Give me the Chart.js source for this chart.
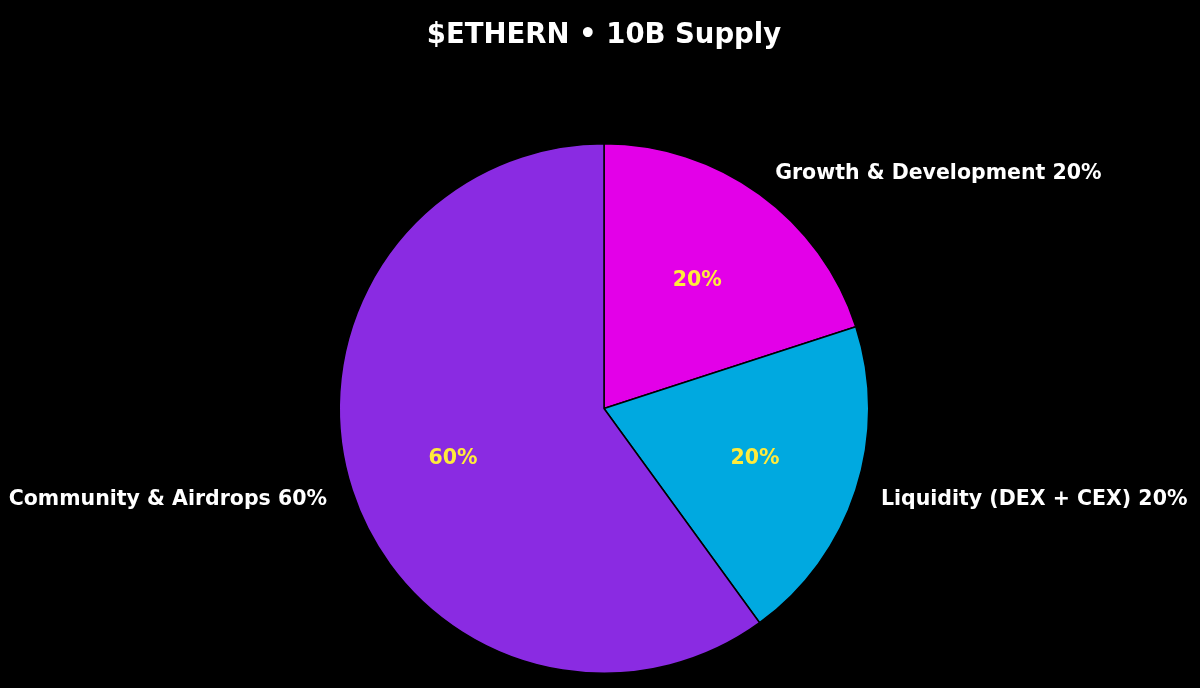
<!DOCTYPE html>
<html>
<head>
<meta charset="utf-8">
<script src="https://cdn.jsdelivr.net/npm/chart.js@4/dist/chart.umd.min.js"></script>
<style>
  html, body { margin: 0; padding: 0; background: #000; }
  #wrap { width: 1200px; height: 688px; position: relative; }
</style>
</head>
<body>
<div id="wrap"><canvas id="pie"></canvas></div>
<script>
var categories = ["Growth & Development", "Liquidity (DEX + CEX)", "Community & Airdrops"];
var shares = [20, 20, 60];
var sliceColors = ["#E300E8", "#00A9E0", "#8A2BE2"];
var chartTitle = "$ETHERN \u2022 10B Supply";

var FONT = "'DejaVu Sans', sans-serif";

// labels outside (1.1 r) and percentages inside (0.6 r), like a matplotlib pie
var pieLabels = {
	id: "pieLabels",
	afterDatasetsDraw: function(chart) {
		var ctx = chart.ctx;
		var arcs = chart.getDatasetMeta(0).data;
		ctx.save();
		ctx.textBaseline = "middle";
		for (var i = 0; i < arcs.length; i++) {
			var a = arcs[i];
			var mid = (a.startAngle + a.endAngle) / 2;
			var r = a.outerRadius;
			var cx = Math.cos(mid), cy = Math.sin(mid);

			ctx.font = "bold 20.5px " + FONT;
			ctx.fillStyle = "#FFEB3B";
			ctx.textAlign = "center";
			ctx.fillText(shares[i] + "%", a.x + cx * r * 0.6, a.y + cy * r * 0.6 + 1);

			ctx.fillStyle = "#FFFFFF";
			ctx.textAlign = cx >= 0 ? "left" : "right";
			ctx.fillText(categories[i] + " " + shares[i] + "%", a.x + cx * r * 1.1, a.y + cy * r * 1.1 + 1);
		}
		ctx.restore();
	}
};

var ctx = document.getElementById("pie").getContext("2d");
var chart = new Chart(ctx, {
	type: "pie",
	data: {
		labels: categories,
		datasets: [{
			data: shares,
			backgroundColor: sliceColors,
			borderColor: "#000000",
			borderWidth: 1.5
		}]
	},
	options: {
		responsive: true,
		maintainAspectRatio: false,
		animation: false,
		layout: { padding: { top: 0, bottom: 14, left: 8, right: 0 } },
		plugins: {
			legend: { display: false },
			tooltip: { enabled: false },
			title: {
				display: true,
				text: chartTitle,
				color: "#FFFFFF",
				font: { family: FONT, size: 27.5, weight: "bold" },
				padding: { top: 19, bottom: 91 }
			}
		}
	},
	plugins: [pieLabels]
});
</script>
</body>
</html>
